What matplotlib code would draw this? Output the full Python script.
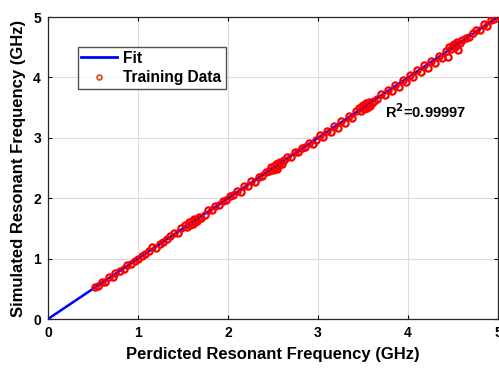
import matplotlib.pyplot as plt
from matplotlib.lines import Line2D

plt.rcParams['font.family'] = ['Liberation Sans', 'DejaVu Sans']
plt.rcParams['font.weight'] = 'bold'

# predicted vs simulated resonant frequency (GHz)
predicted = [0.52, 0.56, 0.60, 0.63, 0.68, 0.72, 0.75, 0.80, 0.84, 0.88, 0.92, 0.97, 1.00,
             1.04, 1.08, 1.12, 1.16, 1.20, 1.24, 1.28, 1.32, 1.36, 1.40, 1.44, 1.48,
             1.52, 1.55, 1.57, 1.58, 1.60, 1.61, 1.62, 1.63, 1.65, 1.66, 1.68, 1.70,
             1.74, 1.78, 1.82, 1.86, 1.90, 1.94, 1.98, 2.02, 2.06, 2.10, 2.14, 2.18, 2.22,
             2.26, 2.30, 2.34, 2.38, 2.42, 2.46,
             2.48, 2.50, 2.51, 2.52, 2.53, 2.54, 2.55, 2.56, 2.57, 2.58, 2.60, 2.62,
             2.66, 2.70, 2.74, 2.78, 2.82, 2.86, 2.90, 2.94, 2.98, 3.02, 3.06, 3.10, 3.14,
             3.18, 3.22, 3.26, 3.30, 3.34, 3.38, 3.42,
             3.46, 3.48, 3.49, 3.50, 3.51, 3.52, 3.53, 3.54, 3.55, 3.56, 3.57, 3.58, 3.60, 3.62,
             3.66, 3.70, 3.74, 3.78, 3.82, 3.86, 3.90, 3.94, 3.98, 4.02, 4.06, 4.10, 4.14,
             4.18, 4.22, 4.26, 4.30, 4.34, 4.38, 4.42, 4.45,
             4.46, 4.48, 4.50, 4.51, 4.52, 4.53, 4.55, 4.56, 4.58, 4.60,
             4.64, 4.68, 4.72, 4.76, 4.80, 4.84, 4.88, 4.92, 4.96]
simulated = [0.53, 0.55, 0.61, 0.62, 0.70, 0.70, 0.77, 0.79, 0.83, 0.90, 0.91, 0.96, 1.00,
             1.05, 1.07, 1.13, 1.20, 1.17, 1.25, 1.27, 1.33, 1.37, 1.42, 1.43, 1.50,
             1.55, 1.52, 1.60, 1.56, 1.63, 1.58, 1.66, 1.60, 1.64, 1.62, 1.69, 1.67,
             1.72, 1.80, 1.80, 1.88, 1.89, 1.96, 1.97, 2.04, 2.05, 2.12, 2.10, 2.20, 2.20,
             2.28, 2.27, 2.36, 2.37, 2.44, 2.45,
             2.52, 2.46, 2.54, 2.50, 2.57, 2.49, 2.53, 2.58, 2.55, 2.60, 2.56, 2.63,
             2.68, 2.69, 2.76, 2.77, 2.84, 2.85, 2.92, 2.90, 2.97, 3.04, 3.01, 3.12, 3.10,
             3.20, 3.17, 3.28, 3.24, 3.36, 3.33, 3.44,
             3.50, 3.45, 3.52, 3.55, 3.48, 3.53, 3.57, 3.50, 3.56, 3.54, 3.59, 3.52, 3.58, 3.61,
             3.64, 3.72, 3.71, 3.80, 3.78, 3.88, 3.85, 3.96, 3.93, 4.04, 4.01, 4.12, 4.09,
             4.20, 4.16, 4.27, 4.24, 4.36, 4.33, 4.44, 4.34,
             4.50, 4.47, 4.53, 4.56, 4.50, 4.55, 4.58, 4.45, 4.57, 4.62,
             4.66, 4.67, 4.74, 4.78, 4.79, 4.88, 4.86, 4.95, 4.97]
fit_x = [0, 5]
fit_y = [0, 5]
r2_text = r'R$^\mathbf{2}$=0.99997'

fig = plt.figure(figsize=(4.99, 3.71), dpi=100)
ax = fig.add_axes([0.096, 0.140, 0.902, 0.814])

ax.plot(fit_x, fit_y, color='#0000ff', lw=1.8, zorder=2)
ax.plot(predicted, simulated, 'o', mfc='none', mec='#ff0000', mew=1.6, ms=4.5, zorder=3)
ax.plot(fit_x, fit_y, color='#0000ff', lw=1.0, ls=':', zorder=4)

ax.set_xlim(0, 5)
ax.set_ylim(0, 5)
ax.set_xticks(range(6))
ax.set_yticks(range(6))
ax.grid(True, color='#dcdcdc', lw=0.8)
ax.set_axisbelow(True)
ax.tick_params(direction='in', top=True, right=True, labelsize=10, length=3, pad=5)
for s in ax.spines.values():
    s.set_linewidth(0.9)
    s.set_color('#262626')

ax.set_xlabel('Perdicted Resonant Frequency (GHz)', fontsize=12, fontweight='bold', labelpad=5)
ax.set_ylabel('Simulated Resonant Frequency (GHz)', fontsize=12, fontweight='bold', labelpad=5)

ax.text(0.748, 0.665, r2_text, transform=ax.transAxes, fontsize=10.5, fontweight='bold')

handles = [Line2D([], [], color='#0000ff', lw=2),
           Line2D([], [], ls='none', marker='o', mfc='none', mec='#d95319', mew=1.3, ms=3.5)]
ax.legend(handles, ['Fit', 'Training Data'], loc='upper left', bbox_to_anchor=(0.066, 0.902),
          fontsize=11.2, frameon=True, fancybox=False, edgecolor='#262626',
          borderpad=0.25, handlelength=2.3, handletextpad=0.4, labelspacing=0.3,
          borderaxespad=0)

fig.savefig('out.png', dpi=100)
